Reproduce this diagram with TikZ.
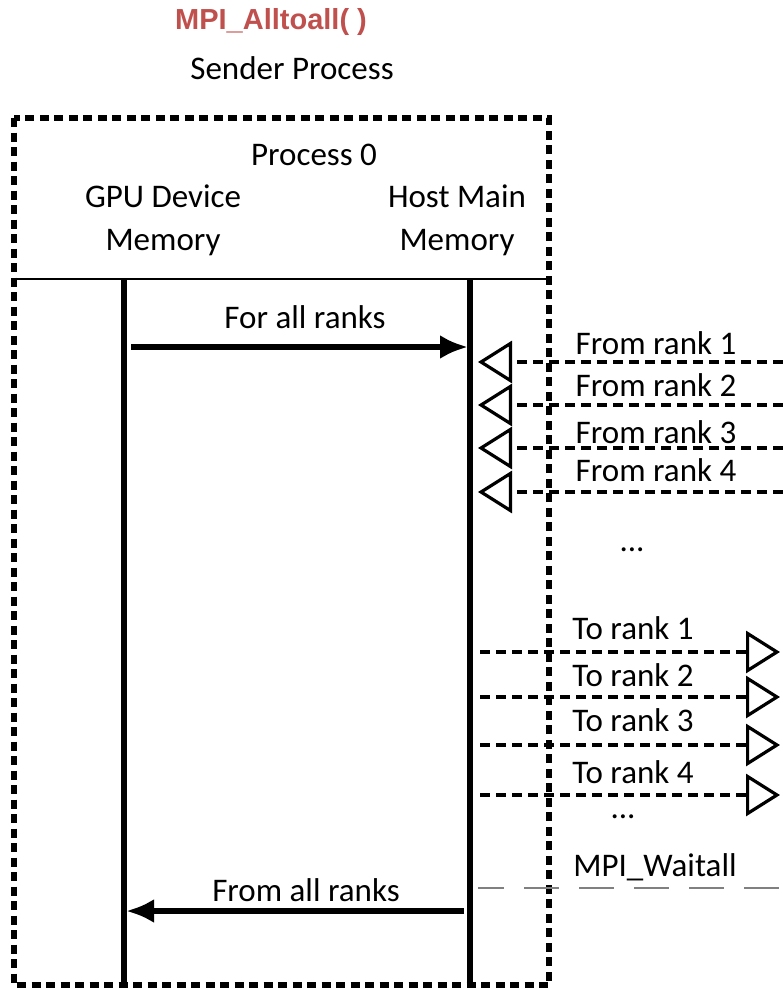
\documentclass[tikz,border=0pt]{standalone}
\usepackage{fontspec}
\setmainfont{Carlito}
\newfontfamily\headfont{Liberation Sans}
\usepackage{tikz}
\usetikzlibrary{shapes,arrows,arrows.meta,positioning}
\definecolor{titlered}{RGB}{192,80,77}
\tikzstyle{txt} = [font=\fontsize{33}{43}\selectfont, align=center, inner sep=0pt]
\tikzstyle{title} = [font=\headfont\bfseries\fontsize{29}{34}\selectfont, text=titlered, inner sep=0pt]
\tikzstyle{procbox} = [draw, line width=6pt, dash pattern=on 9pt off 5.5pt]
\tikzstyle{lifeline} = [draw, line width=6.5pt]
\tikzstyle{divider} = [draw, line width=2pt]
\tikzstyle{line} = [draw, line width=6.5pt, -{Latex[length=28pt,width=24pt]}]
\tikzstyle{msg} = [draw, line width=3.2pt, dash pattern=on 10pt off 6pt, -{Triangle[open,length=34pt,width=42pt]}]
\tikzstyle{waitline} = [draw, gray, line width=2.5pt, dash pattern=on 35pt off 20pt, dash phase=9pt]

\begin{document}
\begin{tikzpicture}[x=1pt, y=-1pt]
    \useasboundingbox (0,0) rectangle (783,988);

    % heading
    \node [title] (title) at (271,22) {MPI\_Alltoall( )};
    \node [txt, below of=title, node distance=46pt, xshift=21pt] (sender) {Sender Process};

    % process box
    \path [procbox] (14,118) rectangle (549,985);
    \coordinate (divl) at (14,279);
    \coordinate (divr) at (549,279);
    \path [divider] (divl) -- (divr);
    \node [txt] (proc) at (314,155) {Process 0};
    \node [txt] (gpu) at (163,220) {GPU Device\\Memory};
    \node [txt] (host) at (457,220) {Host Main\\Memory};

    % lifelines
    \coordinate (gputop) at (124,279);
    \coordinate (gpubot) at (124,988);
    \coordinate (hosttop) at (470,279);
    \coordinate (hostbot) at (470,988);
    \path [lifeline] (gputop) -- (gpubot);
    \path [lifeline] (hosttop) -- (hostbot);

    % copy to host
    \coordinate (fa1) at (131,347);
    \coordinate (fa2) at (468,347);
    \path [line] (fa1) -- (fa2);
    \node [txt] (forall) at (305,317) {For all ranks};

    % incoming
    \foreach \i/\y/\ly in {1/362/343, 2/405/385, 3/448/432, 4/492/470} {
        \coordinate (src\i) at (783,\y);
        \coordinate (in\i) at (478,\y);
        \path [msg] (src\i) -- (in\i);
        \node [txt] (from\i) at (656,\ly) {From rank \i};
    }
    \node [txt] (dots1) at (632,550) {...};

    % outgoing
    \foreach \i/\y/\ly in {1/652/628, 2/697/675, 3/745/720, 4/795/772} {
        \coordinate (out\i) at (480,\y);
        \coordinate (dst\i) at (780,\y);
        \path [msg] (out\i) -- (dst\i);
        \node [txt] (to\i) at (633,\ly) {To rank \i};
    }
    \node [txt] (dots2) at (623,817) {...};

    % wait
    \node [txt] (wait) at (655,867) {MPI\_Waitall};
    \coordinate (w1) at (478,888);
    \coordinate (w2) at (783,888);
    \path [waitline] (w1) -- (w2);

    % copy back
    \coordinate (fr1) at (464,911);
    \coordinate (fr2) at (126,911);
    \path [line] (fr1) -- (fr2);
    \node [txt] (fromall) at (306,890) {From all ranks};
\end{tikzpicture}
\end{document}
